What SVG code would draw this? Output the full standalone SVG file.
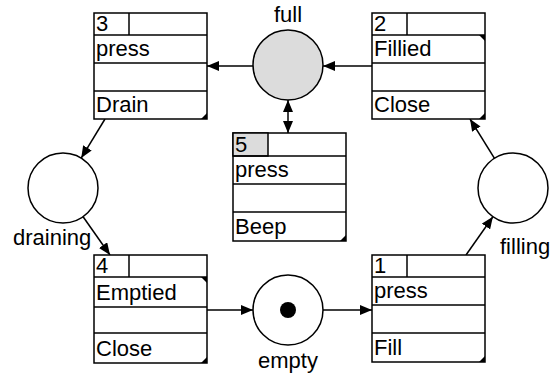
<svg xmlns="http://www.w3.org/2000/svg" width="553" height="380" viewBox="0 0 553 380">
<style>
.box{fill:#fff;stroke:#000;stroke-width:1.5}
.ln{stroke:#000;stroke-width:1.5;fill:none}
.place{fill:#fff;stroke:#000;stroke-width:1.5}
.full{fill:#dcdcdc}
.gray{fill:#dcdcdc;stroke:#000;stroke-width:1.5}
.tri{fill:#000}
text{font-family:"Liberation Sans",Arial,sans-serif;font-size:22px;fill:#000}
.c{text-anchor:middle}
.arc{stroke:#000;stroke-width:1.5;fill:none;marker-end:url(#ah)}
</style>
<defs>
<marker id="ah" viewBox="0 0 12 10" refX="12" refY="5" markerWidth="12" markerHeight="10" markerUnits="userSpaceOnUse" orient="auto-start-reverse">
<path d="M0,0 L12,5 L0,10 Z" fill="#000"/>
</marker>
</defs>

<g id="connectors">
<line class="arc" x1="372" y1="66" x2="323" y2="66"/>
<line class="arc" x1="253" y1="66" x2="207" y2="66"/>
<line class="arc" x1="288" y1="100" x2="288" y2="133" style="marker-start:url(#ah)"/>
<line class="arc" x1="105" y1="119" x2="81.2" y2="158.1"/>
<line class="arc" x1="83.1" y1="216.7" x2="110" y2="255"/>
<line class="arc" x1="207" y1="310" x2="253" y2="310"/>
<line class="arc" x1="323" y1="310" x2="372" y2="310"/>
<line class="arc" x1="466" y1="255" x2="492.9" y2="216.7"/>
<line class="arc" x1="494.5" y1="158.3" x2="470" y2="119"/>
</g>

<g id="place-full">
<circle class="place full" cx="288" cy="65" r="35"/>
<text class="c" x="288" y="22">full</text>
</g>
<g id="place-draining">
<circle class="place" cx="63" cy="188" r="35"/>
<text x="13" y="245">draining</text>
</g>
<g id="place-filling">
<circle class="place" cx="513" cy="188" r="35"/>
<text x="500" y="254">filling</text>
</g>
<g id="place-empty">
<circle class="place" cx="288" cy="310" r="35"/>
<circle cx="288" cy="310" r="8" fill="#000"/>
<text class="c" x="288" y="368">empty</text>
</g>

<g id="node-3">
<rect class="box" x="94" y="13" width="113" height="106"/>
<line class="ln" x1="129" y1="13" x2="129" y2="35"/>
<line class="ln" x1="94" y1="35" x2="207" y2="35"/>
<line class="ln" x1="94" y1="63" x2="207" y2="63"/>
<line class="ln" x1="94" y1="91" x2="207" y2="91"/>
<polygon class="tri" points="201,119 207,119 207,113"/>
<text x="96" y="31">3</text>
<text x="96" y="56">press</text>
<text x="96" y="112">Drain</text>
</g>

<g id="node-2">
<rect class="box" x="372" y="13" width="113" height="106"/>
<line class="ln" x1="407" y1="13" x2="407" y2="35"/>
<line class="ln" x1="372" y1="35" x2="485" y2="35"/>
<line class="ln" x1="372" y1="63" x2="485" y2="63"/>
<line class="ln" x1="372" y1="91" x2="485" y2="91"/>
<polygon class="tri" points="479,35 485,35 485,41"/>
<polygon class="tri" points="479,119 485,119 485,113"/>
<text x="374" y="31">2</text>
<text x="374" y="56">Fillied</text>
<text x="374" y="112">Close</text>
</g>

<g id="node-5">
<rect class="box" x="233" y="133" width="113" height="108"/>
<rect class="gray" x="233" y="133" width="35" height="23"/>
<line class="ln" x1="233" y1="156" x2="346" y2="156"/>
<line class="ln" x1="233" y1="184" x2="346" y2="184"/>
<line class="ln" x1="233" y1="212" x2="346" y2="212"/>
<polygon class="tri" points="340,241 346,241 346,235"/>
<text x="235" y="152">5</text>
<text x="235" y="177">press</text>
<text x="235" y="234">Beep</text>
</g>

<g id="node-4">
<rect class="box" x="94" y="255" width="113" height="108"/>
<line class="ln" x1="129" y1="255" x2="129" y2="277"/>
<line class="ln" x1="94" y1="277" x2="207" y2="277"/>
<line class="ln" x1="94" y1="307" x2="207" y2="307"/>
<line class="ln" x1="94" y1="333" x2="207" y2="333"/>
<polygon class="tri" points="201,277 207,277 207,283"/>
<polygon class="tri" points="201,363 207,363 207,357"/>
<text x="96" y="273">4</text>
<text x="96" y="300">Emptied</text>
<text x="96" y="356">Close</text>
</g>

<g id="node-1">
<rect class="box" x="372" y="255" width="113" height="107"/>
<line class="ln" x1="407" y1="255" x2="407" y2="277"/>
<line class="ln" x1="372" y1="277" x2="485" y2="277"/>
<line class="ln" x1="372" y1="305" x2="485" y2="305"/>
<line class="ln" x1="372" y1="333" x2="485" y2="333"/>
<polygon class="tri" points="479,362 485,362 485,356"/>
<text x="374" y="273">1</text>
<text x="374" y="298">press</text>
<text x="374" y="355">Fill</text>
</g>
</svg>
